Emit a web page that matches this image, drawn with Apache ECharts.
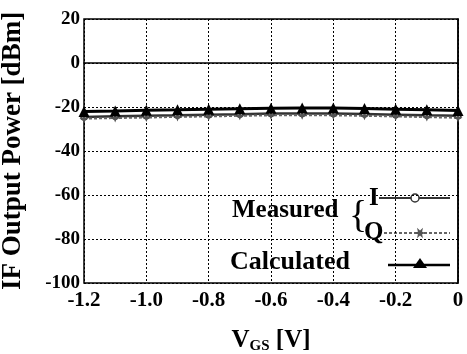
<!DOCTYPE html>
<html>
<head>
<meta charset="utf-8">
<script src="https://cdn.jsdelivr.net/npm/echarts@6/dist/echarts.min.js"></script>
<style>
  html, body { margin: 0; padding: 0; background: #fff; }
  #chart { width: 467px; height: 354px; }
</style>
</head>
<body>
<div id="chart"></div>
<script>
const vgs = [-1.2, -1.1, -1.0, -0.9, -0.8, -0.7, -0.6, -0.5, -0.4, -0.3, -0.2, -0.1, 0];
const measuredI = [-24.5, -24.2, -24, -23.8, -23.5, -23.3, -23, -23, -23, -23.2, -23.5, -23.8, -24];
const measuredQ = [-25.3, -25, -24.8, -24.5, -24.3, -24, -23.8, -23.8, -23.8, -24, -24.3, -24.6, -24.9];
const calculated = [-22, -21.8, -21.5, -21.3, -21, -20.8, -20.6, -20.5, -20.5, -20.7, -21, -21.3, -21.6];
const yTicks = [-100, -80, -60, -40, -20, 0, 20];

const font = '"Liberation Serif", "DejaVu Serif", serif';
const pairs = (ys) => vgs.map((x, i) => [x, ys[i]]);
const star = (cx, cy, r) => {
    const pts = [];
    for (let k = 0; k < 12; k++) {
        const a = k * Math.PI / 6;
        const rr = k % 2 === 0 ? r : r * 0.4;
        pts.push([cx + rr * Math.cos(a), cy + rr * Math.sin(a)]);
    }
    return pts;
};

const chart = echarts.init(document.getElementById('chart'));
chart.setOption({
    animation: false,
    grid: {
        left: 84, right: 9, top: 19, bottom: 71,
        containLabel: false,
        outerBoundsMode: 'none',
        show: true,
        borderColor: '#000',
        borderWidth: 1.5
    },
    xAxis: {
        type: 'value',
        min: -1.2,
        max: 0,
        interval: 0.2,
        name: '{v|V}{s|GS}{v| [V]}',
        nameLocation: 'middle',
        nameGap: 44,
        nameTextStyle: {
            rich: {
                v: {fontFamily: font, fontWeight: 'bold', fontSize: 25, color: '#000'},
                s: {fontFamily: font, fontWeight: 'bold', fontSize: 15, color: '#000', verticalAlign: 'bottom', padding: [12, 0, 0, 0]}
            }
        },
        axisLine: {lineStyle: {color: '#000', width: 1.5}},
        axisTick: {show: false},
        axisLabel: {
            color: '#000',
            fontFamily: font,
            fontWeight: 'bold',
            fontSize: 21,
            margin: 7,
            formatter: (v) => Math.abs(v) < 1e-9 ? '0' : v.toFixed(1)
        },
        splitLine: {lineStyle: {color: '#000', type: [2, 2], width: 1}}
    },
    yAxis: {
        type: 'value',
        min: yTicks[0],
        max: yTicks[yTicks.length - 1],
        interval: 20,
        name: 'IF Output Power [dBm]',
        nameLocation: 'middle',
        nameGap: 57,
        nameTextStyle: {color: '#000', fontFamily: font, fontWeight: 'bold', fontSize: 27},
        axisLine: {lineStyle: {color: '#000', width: 1.5}},
        axisTick: {show: false},
        axisLabel: {
            color: '#000',
            fontFamily: font,
            fontWeight: 'bold',
            fontSize: 19,
            margin: 4
        },
        splitLine: {lineStyle: {color: '#000', type: [2, 2], width: 1}}
    },
    series: [
        {
            name: 'I',
            type: 'line',
            data: pairs(measuredI),
            symbol: 'circle',
            symbolSize: 6,
            itemStyle: {color: '#fff', borderColor: '#333', borderWidth: 1.5},
            lineStyle: {color: '#333', width: 2.5}
        },
        {
            name: 'Q',
            type: 'line',
            data: pairs(measuredQ),
            symbol: 'path://M0,-5L1.5,-1.5L5,0L1.5,1.5L0,5L-1.5,1.5L-5,0L-1.5,-1.5Z',
            symbolSize: 9,
            itemStyle: {color: '#555'},
            lineStyle: {color: '#666', width: 2, type: [3, 2]}
        },
        {
            name: 'Calculated',
            type: 'line',
            data: pairs(calculated),
            symbol: 'triangle',
            symbolSize: 11,
            itemStyle: {color: '#000'},
            lineStyle: {color: '#000', width: 3}
        }
    ],
    graphic: [
        {type: 'text', x: 232, y: 223, style: {text: 'Measured', font: 'bold 25px ' + font, fill: '#000', verticalAlign: 'bottom'}},
        {type: 'text', x: 349, y: 236, style: {text: '{', font: 'normal 38px ' + font, fill: '#000', verticalAlign: 'bottom'}},
        {type: 'text', x: 369, y: 211, style: {text: 'I', font: 'bold 25px ' + font, fill: '#000', verticalAlign: 'bottom'}},
        {type: 'text', x: 364, y: 245, style: {text: 'Q', font: 'bold 25px ' + font, fill: '#000', verticalAlign: 'bottom'}},
        {type: 'text', x: 230, y: 275, style: {text: 'Calculated', font: 'bold 26px ' + font, fill: '#000', verticalAlign: 'bottom'}},
        {type: 'line', shape: {x1: 379, y1: 198, x2: 450, y2: 198}, style: {stroke: '#333', lineWidth: 2}},
        {type: 'circle', shape: {cx: 415, cy: 198, r: 4}, style: {fill: '#fff', stroke: '#333', lineWidth: 1.5}},
        {type: 'line', shape: {x1: 384, y1: 233, x2: 450, y2: 233}, style: {stroke: '#666', lineWidth: 2, lineDash: [3, 2]}},
        {type: 'polygon', shape: {points: star(420, 233, 6)}, style: {fill: '#555'}},
        {type: 'line', shape: {x1: 388, y1: 265, x2: 450, y2: 265}, style: {stroke: '#000', lineWidth: 2.5}},
        {type: 'polygon', shape: {points: [[420, 258], [413, 268], [427, 268]]}, style: {fill: '#000'}}
    ]
});
</script>
</body>
</html>
